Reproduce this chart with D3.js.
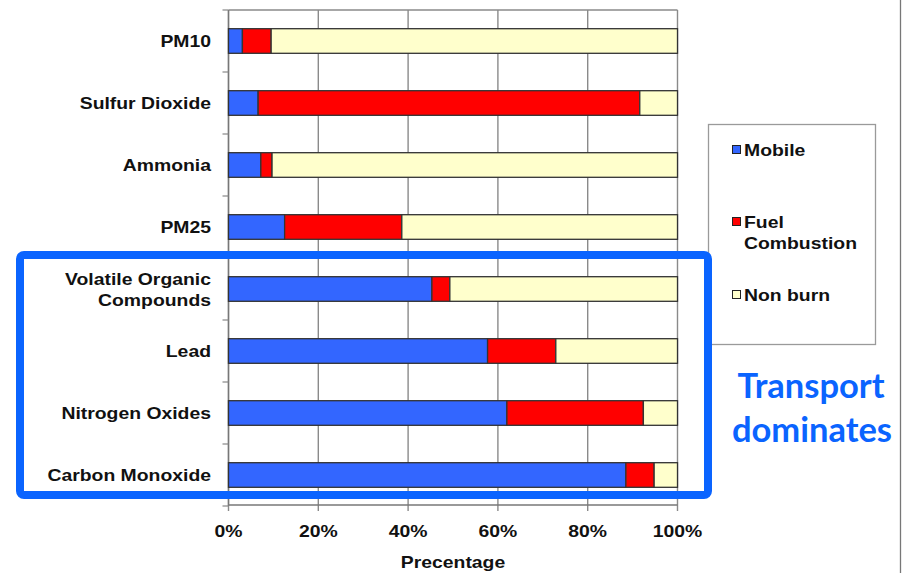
<!DOCTYPE html>
<html>
<head>
<meta charset="utf-8">
<script src="https://cdn.jsdelivr.net/npm/d3@7"></script>
<style>
  html, body { margin: 0; padding: 0; background: #fff; }
  svg { display: block; }
</style>
</head>
<body>
<svg id="chart" width="913" height="573"></svg>
<script>
// Emission source shares (%) by pollutant
const categories = ["PM10", "Sulfur Dioxide", "Ammonia", "PM25",
  "Volatile Organic Compounds", "Lead", "Nitrogen Oxides", "Carbon Monoxide"];
const categoryLines = [["PM10"], ["Sulfur Dioxide"], ["Ammonia"], ["PM25"],
  ["Volatile Organic", "Compounds"], ["Lead"], ["Nitrogen Oxides"], ["Carbon Monoxide"]];
const seriesNames = ["Mobile", "Fuel Combustion", "Non burn"];
const mobile = [3.1, 6.6, 7.2, 12.5, 45.3, 57.7, 62.0, 88.5];
const fuelCombustion = [6.4, 85.0, 2.5, 26.1, 4.0, 15.2, 30.4, 6.3];
const nonBurn = [90.5, 8.4, 90.3, 61.4, 50.7, 27.1, 7.6, 5.2];
const tickValues = [0, 20, 40, 60, 80, 100];
const tickLabels = ["0%", "20%", "40%", "60%", "80%", "100%"];
const colors = ["#3366ff", "#ff0000", "#ffffcc"];

const svg = d3.select("#chart");
const plotLeft = 228.5, plotRight = 677.5, plotTop = 10, plotBottom = 506;
const sx = 1.12; // horizontal stretch of the lettering
const font = "'Liberation Sans', Arial, sans-serif";

const x = d3.scaleLinear().domain([0, 100]).range([plotLeft, plotRight]);
const yb = d3.scaleBand().domain(categories).range([plotTop, plotBottom]);

const rows = categories.map((c, i) => ({
  cat: c, "Mobile": mobile[i], "Fuel Combustion": fuelCombustion[i], "Non burn": nonBurn[i]
}));
const stacked = d3.stack().keys(seriesNames)(rows);

function stretchedText(g, tx, ty, str, anchor, size, weight, fill, family) {
  return g.append("text")
    .attr("transform", `translate(${tx},${ty}) scale(${sx},1)`)
    .attr("text-anchor", anchor)
    .attr("font-family", family || font)
    .attr("font-weight", weight || "bold")
    .attr("font-size", size)
    .attr("fill", fill || "#111")
    .text(str);
}

// grid lines
const grid = svg.append("g");
grid.selectAll("line.v").data(tickValues).join("line")
  .attr("x1", d => x(d)).attr("x2", d => x(d))
  .attr("y1", plotTop).attr("y2", plotBottom + 5)
  .attr("stroke", "#8a8a8a").attr("stroke-width", 1.4);
grid.append("line").attr("x1", plotLeft).attr("x2", plotRight).attr("y1", plotTop).attr("y2", plotTop)
  .attr("stroke", "#8a8a8a").attr("stroke-width", 1.4);
grid.append("line").attr("x1", plotLeft).attr("x2", plotRight).attr("y1", plotBottom - 1).attr("y2", plotBottom - 1)
  .attr("stroke", "#777").attr("stroke-width", 1.4);
// left axis with category ticks
grid.append("line").attr("x1", plotLeft).attr("x2", plotLeft).attr("y1", plotTop).attr("y2", plotBottom)
  .attr("stroke", "#777").attr("stroke-width", 1.4);
grid.selectAll("line.t").data(d3.range(categories.length + 1)).join("line")
  .attr("x1", plotLeft - 6).attr("x2", plotLeft)
  .attr("y1", i => plotTop + i * yb.step()).attr("y2", i => plotTop + i * yb.step())
  .attr("stroke", "#888").attr("stroke-width", 1.2);

// bars
const bars = svg.append("g");
stacked.forEach((s, k) => {
  bars.selectAll(null).data(s).join("rect")
    .attr("x", d => x(d[0]))
    .attr("width", d => x(d[1]) - x(d[0]))
    .attr("y", d => yb(d.data.cat) + yb.bandwidth() / 2 - 12.3)
    .attr("height", 24.6)
    .attr("fill", colors[k])
    .attr("stroke", "#333").attr("stroke-width", 1.3);
});

// category labels
const labels = svg.append("g");
categories.forEach((c, i) => {
  const lines = categoryLines[i];
  const cy = yb(c) + yb.bandwidth() / 2;
  lines.forEach((ln, j) => {
    const ty = cy + 6 + (j - (lines.length - 1) / 2) * 21;
    stretchedText(labels, 211, ty, ln, "end", 17.3);
  });
});

// x tick labels and title
tickValues.forEach((v, i) => {
  stretchedText(svg, x(v), 537, tickLabels[i], "middle", 17.3);
});
stretchedText(svg, (plotLeft + plotRight) / 2, 568, "Precentage", "middle", 17.3);

// legend
const lg = svg.append("g");
lg.append("rect").attr("x", 708.5).attr("y", 124.5).attr("width", 167).attr("height", 220)
  .attr("fill", "#fff").attr("stroke", "#9a9a9a").attr("stroke-width", 1.3);
const legendRows = [
  { lines: ["Mobile"], y: 150 },
  { lines: ["Fuel", "Combustion"], y: 222 },
  { lines: ["Non burn"], y: 295 }
];
legendRows.forEach((r, k) => {
  lg.append("rect").attr("x", 732.5).attr("y", r.y - 4.5).attr("width", 8).attr("height", 8)
    .attr("fill", colors[k]).attr("stroke", "#222").attr("stroke-width", 1);
  r.lines.forEach((ln, j) => {
    stretchedText(lg, 744, r.y + 6 + j * 21, ln, "start", 17.3);
  });
});

// highlight frame around the transport-dominated pollutants
svg.append("rect").attr("x", 20).attr("y", 255).attr("width", 688).attr("height", 240)
  .attr("rx", 4).attr("fill", "none").attr("stroke", "#0a64ff").attr("stroke-width", 8);

svg.append("text").attr("x", 811).attr("y", 398).attr("text-anchor", "middle")
  .attr("font-family", "Lato, 'Open Sans', sans-serif").attr("font-weight", "bold")
  .attr("font-size", 34.5).attr("fill", "#0a64ff").text("Transport");
svg.append("text").attr("x", 812).attr("y", 442).attr("text-anchor", "middle")
  .attr("font-family", "Lato, 'Open Sans', sans-serif").attr("font-weight", "bold")
  .attr("font-size", 34.5).attr("fill", "#0a64ff").text("dominates");

// right edge rule
svg.append("line").attr("x1", 900.5).attr("x2", 900.5).attr("y1", 0).attr("y2", 573)
  .attr("stroke", "#777").attr("stroke-width", 1.3);
</script>
</body>
</html>
